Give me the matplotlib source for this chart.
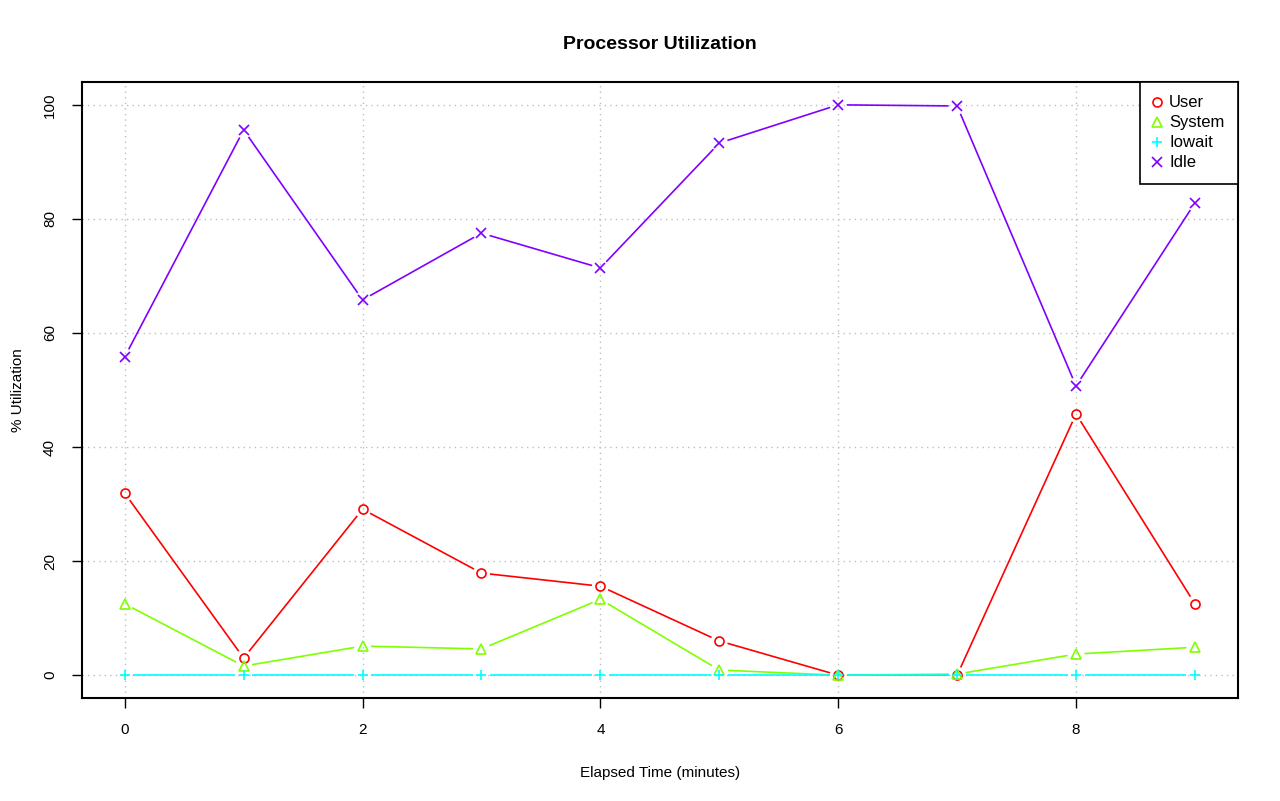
import matplotlib
matplotlib.use("Agg")
import matplotlib.pyplot as plt
from matplotlib.lines import Line2D
import numpy as np

plt.rcParams['font.family'] = ['Liberation Sans', 'DejaVu Sans']

minutes = [0, 1, 2, 3, 4, 5, 6, 7, 8, 9]
user = [31.9, 3.0, 29.1, 17.9, 15.6, 6.0, 0.0, 0.0, 45.8, 12.5]
system = [12.5, 1.6, 5.1, 4.6, 13.3, 0.9, 0.0, 0.2, 3.7, 4.9]
iowait = [0.0, 0.0, 0.0, 0.0, 0.0, 0.0, 0.0, 0.0, 0.0, 0.0]
idle = [55.8, 95.6, 65.8, 77.5, 71.4, 93.3, 100.0, 99.8, 50.7, 82.8]
names = ["User", "System", "Iowait", "Idle"]
colors = ["#FF0000", "#80FF00", "#00FFFF", "#8000FF"]
markers = ["o", "^", "+", "x"]

fig = plt.figure(figsize=(12.8, 8.01), dpi=100)
ax = fig.add_axes([0.064, 0.1286, 0.903, 0.769])
ax.set_xlim(-0.36, 9.36)
ax.set_ylim(-4, 104)

series = [user, system, iowait, idle]
gap = 8.5  # pixels of gap around each point (R type="b")
trans = ax.transData
inv = trans.inverted()
for vals, c, m in zip(series, colors, markers):
    pts = trans.transform(np.column_stack([minutes, vals]))
    for p0, p1 in zip(pts[:-1], pts[1:]):
        d = p1 - p0
        L = np.hypot(*d)
        if L <= 2 * gap:
            continue
        u = d / L
        a = inv.transform(p0 + u * gap)
        b = inv.transform(p1 - u * gap)
        ax.plot([a[0], b[0]], [a[1], b[1]], color=c, lw=1.2, solid_capstyle='butt')
    ax.plot(minutes, vals, linestyle='none', marker=m, markersize=6.5,
            markerfacecolor='none', markeredgecolor=c, markeredgewidth=1.2)

ax.set_xticks([0, 2, 4, 6, 8])
ax.set_yticks([0, 20, 40, 60, 80, 100])
ax.grid(True, color='#BEBEBE', linestyle=(0, (1, 3)), lw=1)
ax.set_axisbelow(True)
for s in ax.spines.values():
    s.set_linewidth(1.5)
ax.tick_params(direction='out', length=7, width=1, labelsize=11, pad=11)
for lab in ax.get_yticklabels():
    lab.set_rotation(90)
    lab.set_va('center')

ax.set_title("Processor Utilization", fontsize=14, fontweight='bold', pad=24)
ax.set_xlabel("Elapsed Time (minutes)", fontsize=11, labelpad=21)
ax.set_ylabel("% Utilization", fontsize=11, labelpad=13)

handles = [Line2D([], [], linestyle='none', marker=m, color=c, markerfacecolor='none',
                  markeredgewidth=1.2, markersize=6.5) for m, c in zip(markers, colors)]
leg = ax.legend(handles, names, loc='upper right', borderaxespad=0, fancybox=False,
                edgecolor='black', fontsize=12, handlelength=0.45, handletextpad=0.5,
                labelspacing=0.3, framealpha=1, borderpad=0.8)
leg.get_frame().set_linewidth(1.2)

fig.savefig("out.png", dpi=100)
